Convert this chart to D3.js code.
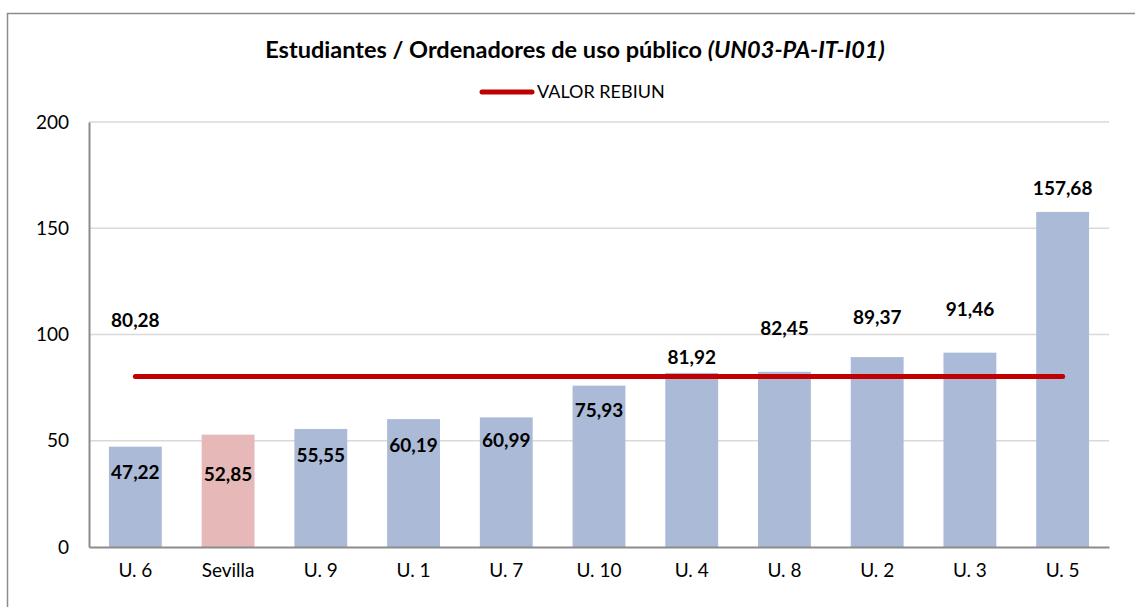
<!DOCTYPE html>
<html lang="es">
<head>
    <meta charset="UTF-8">
    <title>Estudiantes / Ordenadores de uso público</title>
    <script src="https://d3js.org/d3.v7.min.js"></script>
    <style>
        body {
            margin: 0;
            background-color: #fff;
            font-family: Lato, "Open Sans", sans-serif;
        }
        .grid line {
            stroke: #d9d9d9;
            stroke-width: 1.5px;
        }
        .tick text {
            fill: #000;
        }
    </style>
</head>
<body>
    <div id="chart"></div>

    <script>
        // data
        const universities = ["U. 6", "Sevilla", "U. 9", "U. 1", "U. 7", "U. 10", "U. 4", "U. 8", "U. 2", "U. 3", "U. 5"];
        const ratios = [47.22, 52.85, 55.55, 60.19, 60.99, 75.93, 81.92, 82.45, 89.37, 91.46, 157.68];
        const highlighted = "Sevilla";
        const rebiunValue = 80.28;
        const yTicks = [0, 50, 100, 150, 200];

        const width = 1135, height = 607;
        const margin = {top: 122, right: 26, bottom: 60, left: 89};

        // label nudges (px from bar top), hand placed like the original sheet
        const labelDy = [26, 40, 26, 26, 23, 25, -16, -43, -40, -43, -24];

        const fmt = v => v.toFixed(2).replace(".", ",");

        const svg = d3.select("#chart")
            .append("svg")
            .attr("width", width)
            .attr("height", height);

        // outer frame
        svg.append("rect")
            .attr("x", 7.5)
            .attr("y", 13.5)
            .attr("width", 1140)
            .attr("height", 620)
            .attr("fill", "none")
            .attr("stroke", "#8c8c8c")
            .attr("stroke-width", 1.5);

        const x = d3.scaleBand()
            .domain(universities)
            .range([margin.left, width - margin.right])
            .paddingInner(0.43)
            .paddingOuter(0.215);

        const y = d3.scaleLinear()
            .domain([0, 200])
            .range([height - margin.bottom, margin.top]);

        // gridlines
        svg.append("g")
            .attr("class", "grid")
            .selectAll("line")
            .data(yTicks.filter(d => d > 0))
            .enter().append("line")
            .attr("x1", margin.left)
            .attr("x2", width - margin.right)
            .attr("y1", d => y(d))
            .attr("y2", d => y(d));

        // bars
        svg.append("g")
            .selectAll("rect")
            .data(universities)
            .enter().append("rect")
            .attr("x", d => x(d))
            .attr("width", x.bandwidth())
            .attr("y", (d, i) => y(ratios[i]))
            .attr("height", (d, i) => y(0) - y(ratios[i]))
            .attr("fill", d => d === highlighted ? "#e6b8b7" : "#abbad7");

        // axes
        const yAxis = svg.append("g")
            .attr("transform", `translate(${margin.left},0)`)
            .call(d3.axisLeft(y).tickValues(yTicks).tickSize(0).tickPadding(20));
        yAxis.select(".domain").attr("stroke", "#8c8c8c").attr("stroke-width", 2);
        yAxis.selectAll("text").style("font-size", "19px").style("font-family", "Lato");

        const xAxis = svg.append("g")
            .attr("transform", `translate(0,${y(0)})`)
            .call(d3.axisBottom(x).tickSize(0).tickPadding(17));
        xAxis.select(".domain").attr("stroke", "#8c8c8c").attr("stroke-width", 2);
        xAxis.selectAll("text").style("font-size", "19px").style("font-family", "Lato");

        // REBIUN line
        const first = universities[0], last = universities[universities.length - 1];
        svg.append("line")
            .attr("x1", x(first) + x.bandwidth() / 2)
            .attr("x2", x(last) + x.bandwidth() / 2)
            .attr("y1", y(rebiunValue))
            .attr("y2", y(rebiunValue))
            .attr("stroke", "#c00000")
            .attr("stroke-width", 5)
            .attr("stroke-linecap", "round");

        svg.append("text")
            .attr("x", x(first) + x.bandwidth() / 2)
            .attr("y", y(rebiunValue) - 56)
            .attr("dy", "0.35em")
            .attr("text-anchor", "middle")
            .style("font-size", "19px")
            .style("font-weight", "bold")
            .text(fmt(rebiunValue));

        // bar labels
        svg.append("g")
            .selectAll("text")
            .data(universities)
            .enter().append("text")
            .attr("x", d => x(d) + x.bandwidth() / 2)
            .attr("y", (d, i) => y(ratios[i]) + labelDy[i])
            .attr("dy", "0.35em")
            .attr("text-anchor", "middle")
            .style("font-size", "19px")
            .style("font-weight", "bold")
            .text((d, i) => fmt(ratios[i]));

        // title
        const title = svg.append("text")
            .attr("x", 575)
            .attr("y", 50)
            .attr("dy", "0.35em")
            .attr("text-anchor", "middle")
            .style("font-size", "23.5px")
            .style("font-weight", "bold");
        title.append("tspan").text("Estudiantes / Ordenadores de uso público ");
        title.append("tspan").style("font-style", "italic").text("(UN03-PA-IT-I01)");

        // legend
        svg.append("line")
            .attr("x1", 482)
            .attr("x2", 532)
            .attr("y1", 92)
            .attr("y2", 92)
            .attr("stroke", "#c00000")
            .attr("stroke-width", 5)
            .attr("stroke-linecap", "round");

        svg.append("text")
            .attr("x", 537)
            .attr("y", 92)
            .attr("dy", "0.35em")
            .style("font-size", "18px")
            .text("VALOR REBIUN");
    </script>
</body>
</html>
